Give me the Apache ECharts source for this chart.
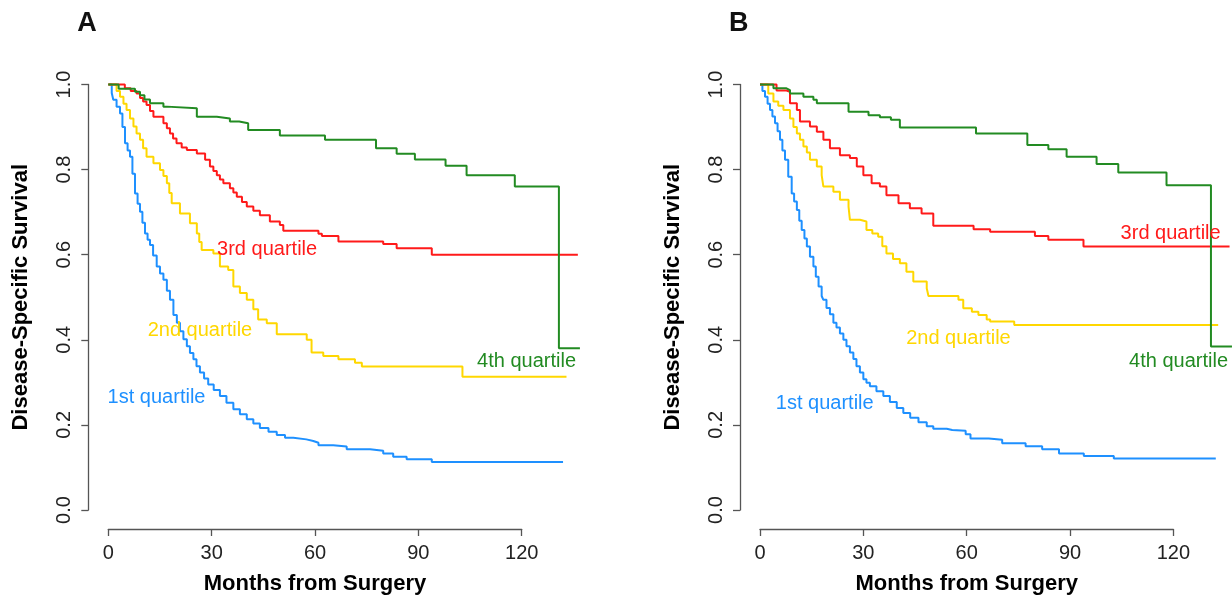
<!DOCTYPE html>
<html>
<head>
<meta charset="utf-8">
<script src="https://cdn.jsdelivr.net/npm/echarts@6/dist/echarts.min.js"></script>
<style>
  html, body { margin: 0; padding: 0; background: #fff; }
  #chart { width: 1232px; height: 596px; }
</style>
</head>
<body>
<div id="chart"></div>
<script>
// [months, survival] pairs, value holds until the next drop
const A_Q1 = [[0,1],[1.0,0.98],[1.45,0.964],[2.4,0.948],[3.4,0.932],[4.1,0.9],[4.85,0.862],[5.6,0.845],[6.3,0.83],[7.0,0.79],[7.75,0.744],[8.5,0.72],[9.2,0.701],[9.9,0.675],[10.65,0.65],[11.4,0.635],[12.1,0.623],[13.0,0.598],[14.05,0.572],[15.0,0.556],[16.0,0.541],[17.0,0.515],[17.9,0.494],[18.9,0.458],[19.9,0.44],[20.8,0.42],[21.8,0.401],[22.8,0.385],[23.7,0.369],[24.7,0.354],[25.6,0.338],[26.6,0.323],[27.8,0.309],[29.0,0.295],[30.6,0.282],[32.4,0.268],[34.3,0.252],[36.3,0.237],[38.2,0.225],[40.2,0.213],[42.1,0.203],[44.0,0.193],[46.5,0.184],[48.9,0.176],[51.3,0.17],[53.7,0.166],[57.5,0.162],[59.5,0.158],[61.0,0.152],[65.3,0.149],[69.2,0.143],[76.0,0.139],[79.8,0.133],[82.7,0.125],[86.6,0.119],[93.9,0.113],[132,0.113]];
const A_Q2 = [[0,1],[2.4,0.985],[3.4,0.971],[4.4,0.955],[5.3,0.94],[6.3,0.92],[7.3,0.901],[8.2,0.885],[9.2,0.87],[10.1,0.85],[11.1,0.83],[13.1,0.815],[15.0,0.799],[16.0,0.785],[17.0,0.768],[17.7,0.745],[18.4,0.721],[20.8,0.697],[23.7,0.674],[25.7,0.65],[26.4,0.63],[27.1,0.611],[30.5,0.603],[32.4,0.572],[34.8,0.564],[36.3,0.525],[38.2,0.51],[40.2,0.494],[42.1,0.472],[43.5,0.448],[46.0,0.439],[48.9,0.413],[57.6,0.4],[59.0,0.37],[62.4,0.362],[66.8,0.354],[71.6,0.346],[73.6,0.337],[102.8,0.313],[133,0.313]];
const A_Q3 = [[0,1],[4.8,0.991],[6.5,0.985],[8.2,0.979],[9.2,0.968],[10.1,0.96],[11.1,0.952],[12.1,0.938],[13.1,0.924],[16.0,0.909],[17.0,0.897],[17.9,0.885],[18.8,0.873],[19.8,0.862],[21.3,0.852],[22.8,0.846],[25.7,0.838],[28.1,0.823],[29.5,0.807],[30.5,0.797],[31.5,0.787],[32.4,0.777],[33.4,0.768],[35.3,0.756],[36.3,0.746],[37.3,0.736],[38.8,0.724],[40.2,0.713],[42.1,0.703],[44.0,0.693],[46.9,0.678],[49.8,0.67],[50.8,0.656],[61.0,0.649],[62.0,0.644],[66.8,0.631],[79.8,0.625],[83.7,0.615],[93.9,0.6],[136.3,0.6]];
const A_Q4 = [[0,1],[3.0,0.99],[7.75,0.983],[9.2,0.975],[10.5,0.965],[12.1,0.956],[16.0,0.948],[17.0,0.944],[25.7,0.924],[31.5,0.92],[35.3,0.913],[38.0,0.909],[40.6,0.893],[49.8,0.88],[62.9,0.87],[77.7,0.85],[83.7,0.837],[89.0,0.824],[97.9,0.809],[104.0,0.787],[118.0,0.76],[130.8,0.38],[136.9,0.38]];

const B_Q1 = [[0,1],[0.7,0.985],[1.45,0.971],[2.2,0.955],[2.9,0.94],[3.6,0.925],[4.36,0.909],[5.1,0.89],[5.8,0.87],[6.5,0.845],[7.26,0.823],[8.2,0.783],[9.2,0.744],[9.9,0.725],[10.7,0.705],[11.4,0.68],[12.1,0.658],[12.9,0.638],[13.6,0.619],[14.5,0.595],[15.5,0.572],[16.2,0.548],[17.0,0.525],[17.9,0.503],[18.4,0.494],[19.3,0.475],[20.3,0.46],[21.3,0.44],[22.2,0.429],[23.2,0.415],[24.2,0.4],[25.1,0.385],[26.1,0.37],[27.1,0.355],[28.0,0.338],[29.0,0.323],[30.0,0.307],[30.9,0.299],[31.9,0.291],[33.8,0.279],[35.8,0.268],[37.7,0.254],[39.7,0.24],[41.6,0.228],[43.6,0.217],[46.0,0.206],[48.4,0.197],[50.3,0.191],[54.2,0.188],[55.8,0.186],[59.7,0.178],[61.1,0.168],[66.4,0.165],[70.3,0.157],[77.1,0.15],[81.9,0.143],[86.8,0.133],[94.0,0.127],[102.7,0.121],[132.3,0.121]];
const B_Q2 = [[0,1],[2.4,0.979],[3.9,0.96],[5.3,0.95],[6.8,0.94],[8.7,0.92],[9.7,0.9],[10.7,0.885],[11.6,0.87],[12.6,0.854],[13.6,0.84],[14.5,0.823],[16.5,0.807],[17.9,0.787],[18.4,0.76],[21.3,0.748],[23.2,0.729],[25.7,0.713],[26.1,0.682],[29.0,0.678],[30.9,0.658],[32.6,0.65],[34.3,0.642],[35.5,0.62],[36.7,0.603],[38.6,0.59],[40.6,0.58],[42.5,0.56],[44.5,0.537],[48.4,0.521],[48.9,0.503],[57.6,0.494],[59.0,0.474],[61.5,0.466],[63.4,0.458],[65.8,0.448],[66.8,0.443],[73.8,0.435],[133,0.435]];
const B_Q3 = [[0,1],[4.8,0.986],[7.7,0.983],[8.7,0.956],[10.7,0.94],[11.6,0.913],[14.5,0.901],[16.5,0.889],[18.4,0.87],[20.3,0.85],[23.2,0.834],[26.1,0.827],[28.1,0.807],[30.0,0.787],[32.4,0.768],[34.8,0.76],[36.7,0.74],[40.2,0.721],[43.5,0.709],[46.9,0.697],[50.3,0.668],[62.0,0.66],[66.8,0.654],[79.8,0.644],[83.7,0.635],[93.9,0.619],[136.3,0.619]];
const B_Q4 = [[0,1],[3.9,0.991],[7.7,0.987],[8.7,0.979],[12.6,0.971],[15.5,0.964],[16.5,0.956],[25.7,0.936],[31.5,0.928],[34.8,0.923],[38.0,0.917],[40.6,0.899],[62.7,0.885],[77.6,0.858],[83.7,0.848],[89.0,0.83],[97.7,0.813],[104.0,0.793],[118.0,0.763],[130.9,0.384],[137,0.384]];

const QUARTILES = ['1st quartile', '2nd quartile', '3rd quartile', '4th quartile'];
const PANELS = ['A', 'B'];
const X_TICKS = [0, 30, 60, 90, 120];
const Y_TICKS = [0, 0.2, 0.4, 0.6, 0.8, 1.0];

const COLORS = ['#1E90FF', '#FFD700', '#FF1A1A', '#228B22'];
const FONT = '"Liberation Sans", Arial, sans-serif';

// where each curve's text sits, in data units (months, survival)
const labelAt = {
  A: [[14.0, 0.264], [26.6, 0.423], [46.1, 0.613], [121.4, 0.348]],
  B: [[18.8, 0.251], [57.6, 0.403], [119.2, 0.649], [121.5, 0.35]],
};
const curves = { A: [A_Q1, A_Q2, A_Q3, A_Q4], B: [B_Q1, B_Q2, B_Q3, B_Q4] };

// plot geometry: pixel where month 0 / survival 0..1 sit
const x0 = [108.3, 760];
const pxPerMonth = 3.445;
const yTop = 84.5, yHeight = 425.5;
// the data area is padded beyond the drawn axes, like R does
const padX = [-5, 140], padY = [-0.04, 1.04];

const chart = echarts.init(document.getElementById('chart'));

const axisLook = {
  axisLine: { show: true, onZero: false, lineStyle: { color: '#555', width: 1.3 } },
  axisTick: { show: true, length: 7, lineStyle: { color: '#555', width: 1.3 } },
  splitLine: { show: false },
};
const nameStyle = { fontFamily: FONT, fontSize: 22, fontWeight: 'bold', color: '#000' };
const tickStyle = { fontFamily: FONT, fontSize: 20, color: '#222' };

const grids = [], xAxes = [], yAxes = [];
PANELS.forEach((p, i) => {
  // visible axes grid: exactly 0..120 months, 0..1 survival
  grids.push({
    left: x0[i], top: yTop, width: 120 * pxPerMonth, height: yHeight,
    containLabel: false, outerBoundsMode: 'none',
  });
  xAxes.push({
    ...axisLook, type: 'value', gridIndex: 2 * i,
    min: X_TICKS[0], max: X_TICKS[X_TICKS.length - 1], interval: 30, offset: 19,
    name: 'Months from Surgery', nameLocation: 'middle', nameGap: 44, nameTextStyle: nameStyle,
    axisLabel: { ...tickStyle, margin: 14 },
  });
  yAxes.push({
    ...axisLook, type: 'value', gridIndex: 2 * i,
    min: Y_TICKS[0], max: Y_TICKS[Y_TICKS.length - 1], interval: 0.2, offset: 20,
    name: 'Disease-Specific Survival', nameLocation: 'middle', nameGap: 56, nameTextStyle: nameStyle,
    axisLabel: { ...tickStyle, margin: 14, rotate: 90, formatter: (v) => v.toFixed(1) },
  });
  // data grid: padded range, hidden axes
  grids.push({
    left: x0[i] + padX[0] * pxPerMonth,
    top: yTop - (padY[1] - 1) * yHeight,
    width: (padX[1] - padX[0]) * pxPerMonth,
    height: (padY[1] - padY[0]) * yHeight,
    containLabel: false, outerBoundsMode: 'none',
  });
  xAxes.push({ type: 'value', gridIndex: 2 * i + 1, min: padX[0], max: padX[1], show: false });
  yAxes.push({ type: 'value', gridIndex: 2 * i + 1, min: padY[0], max: padY[1], show: false });
});

const series = [];
PANELS.forEach((p, i) => {
  curves[p].forEach((data, q) => {
    series.push({
      type: 'line',
      xAxisIndex: 2 * i + 1,
      yAxisIndex: 2 * i + 1,
      data: data,
      step: 'end',
      showSymbol: false,
      lineStyle: { color: COLORS[q], width: 2 },
      markPoint: {
        silent: true,
        symbol: 'circle',
        symbolSize: 0,
        data: [{ coord: labelAt[p][q], value: QUARTILES[q] }],
        label: {
          show: true, position: 'inside', formatter: QUARTILES[q],
          fontFamily: FONT, fontSize: 20, color: COLORS[q],
        },
      },
    });
  });
});

chart.setOption({
  animation: false,
  title: PANELS.map((p, i) => ({
    text: p,
    left: x0[i] - 31,
    top: 10,
    padding: 0,
    textStyle: { fontFamily: FONT, fontSize: 27, fontWeight: 'bold', color: '#111' },
  })),
  grid: grids,
  xAxis: xAxes,
  yAxis: yAxes,
  series: series,
});
</script>
</body>
</html>
